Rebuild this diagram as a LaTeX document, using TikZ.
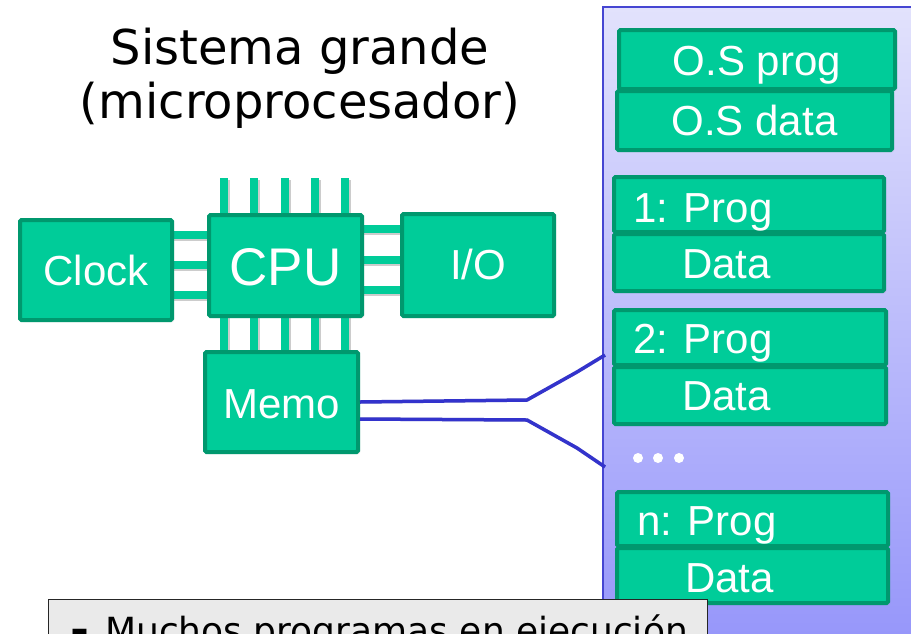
\documentclass[tikz,border=0pt]{standalone}
\usepackage{fontspec}
\setmainfont{Liberation Sans}
\newfontfamily\verd{DejaVu Sans}
\usetikzlibrary{shadows}
\definecolor{grn}{RGB}{0,204,153}
\definecolor{grnb}{RGB}{0,152,110}
\definecolor{wire}{RGB}{51,51,204}
\definecolor{pantop}{RGB}{226,226,252}
\definecolor{panbot}{RGB}{148,148,250}
\definecolor{panbd}{RGB}{70,70,210}
\definecolor{notefill}{RGB}{234,234,234}
\begin{document}
\begin{tikzpicture}[x=1pt,y=-1pt,
  gbox/.style={draw=grnb, fill=grn, line width=4pt, rounded corners=1.5pt,
    inner sep=0pt, drop shadow={shadow xshift=2pt,shadow yshift=-2pt,opacity=0.22}},
  pinshape/.style={fill=grn},
  pinshadow/.style={fill=black, opacity=0.2},
  lbl/.style={text=white, font=\fontsize{42}{42}\selectfont, inner sep=0pt, anchor=base},
  lblw/.style={lbl, anchor=base west},
  title/.style={font=\verd\fontsize{48}{48}\selectfont, inner sep=0pt, anchor=base},
  wirestyle/.style={draw=wire, line width=3.5pt, line join=round},
  wireshadow/.style={draw=black, opacity=0.15, line width=3.5pt, line join=round}
]
\useasboundingbox (0,0) rectangle (911,633);

% title
\node[title] (t1) at (300,64) {Sistema grande};
\node[title] (t2) at (300,118) {(microprocesador)};

% pins (behind boxes)
\foreach \x in {224,254,285,315,345}{
  \fill[pinshadow] (\x-4+2,180) rectangle (\x+4+2,352);
  \fill[pinshape] (\x-4,178) rectangle (\x+4,350);
}
\foreach \y in {235,265,295}{
  \fill[pinshadow] (174,\y-4+2) rectangle (209,\y+4+2);
  \fill[pinshape] (172,\y-4) rectangle (209,\y+4);
}
\foreach \y in {229,260,290}{
  \fill[pinshadow] (362,\y-4+2) rectangle (402,\y+4+2);
  \fill[pinshape] (362,\y-4) rectangle (402,\y+4);
}

% left boxes
\node[gbox, minimum width=152, minimum height=100] (clock) at (96,270) {};
\node[gbox, minimum width=153, minimum height=101] (cpu) at (285.5,265.5) {};
\node[gbox, minimum width=153, minimum height=100] (memo) at (281.5,402) {};
\node[gbox, minimum width=152, minimum height=102] (io) at (478,265) {};

\node[lbl] (clockt) at (96,285) {Clock};
\node[lbl, font=\fontsize{53}{53}\selectfont] (cput) at (285.5,285) {CPU};
\node[lbl] (memot) at (281.5,418) {Memo};
\node[lbl] (iot) at (478,279) {I/O};

% memory panel
\draw[panbd, line width=1.5pt, top color=pantop, bottom color=panbot]
  (603,7) rectangle (935,660);

\node[gbox, minimum width=276, minimum height=59] (osp) at (757,59.5) {};
\node[gbox, minimum width=275, minimum height=59] (osd) at (754.5,120.5) {};
\node[gbox, minimum width=270, minimum height=55] (p1) at (749,204.5) {};
\node[gbox, minimum width=270, minimum height=57] (d1) at (749,262.5) {};
\node[gbox, minimum width=272, minimum height=55] (p2) at (750,337.5) {};
\node[gbox, minimum width=272, minimum height=57] (d2) at (750,395.5) {};
\node[gbox, minimum width=271, minimum height=54] (pn) at (752.5,519) {};
\node[gbox, minimum width=271, minimum height=55] (dn) at (752.5,575.5) {};

\node[lbl] (ospt) at (757,75) {O.S prog};
\node[lbl] (osdt) at (754.5,135) {O.S data};
\node[lblw] (p1t) at (633,222) {1: Prog};
\node[lblw] (d1t) at (682,278) {Data};
\node[lblw] (p2t) at (633,353) {2: Prog};
\node[lblw] (d2t) at (682,410) {Data};
\node[lblw] (pnt) at (637,535) {n: Prog};
\node[lblw] (dnt) at (685,592) {Data};

\foreach \x in {638,658,679}{ \fill[white] (\x,458) circle (5); }

% wires
\coordinate (ma) at (memo.east);
\coordinate (mb) at ([yshift=-17pt]memo.east);
\coordinate (ja) at (527,400);
\coordinate (jb) at (527,420);
\coordinate (ka) at (577,372);
\coordinate (kb) at (577,448);
\coordinate (pa) at (605,355);
\coordinate (pb) at (605,467);
\begin{scope}[shift={(2,2)}]
\draw[wireshadow] (ma) -- (ja) -- (ka) -- (pa);
\draw[wireshadow] (mb) -- (jb) -- (kb) -- (pb);
\end{scope}
\draw[wirestyle] (ma) -- (ja) -- (ka) -- (pa);
\draw[wirestyle] (mb) -- (jb) -- (kb) -- (pb);

% note box
\draw[draw=black!85, fill=notefill, line width=1pt] (48,599) rectangle (707,680);
\node[font=\verd\fontsize{36}{36}\selectfont, inner sep=0pt, anchor=base west] (note)
  at (70,643) {\makebox[35pt][l]{\fontsize{28}{28}\selectfont ▪}Muchos programas en ejecución};
\end{tikzpicture}
\end{document}
